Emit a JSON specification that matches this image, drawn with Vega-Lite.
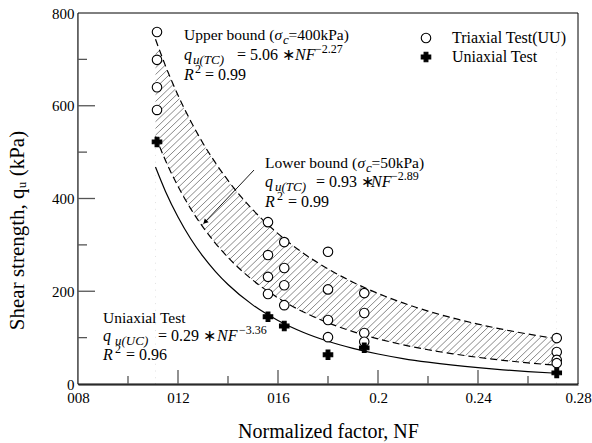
{
  "$schema": "https://vega.github.io/schema/vega-lite/v6.json",
  "width": 500,
  "height": 371,
  "autosize": {"type": "none"},
  "padding": {"left": 78, "top": 13, "right": 14, "bottom": 59},
  "background": "white",
  "config": {
    "view": {"stroke": null},
    "font": "Liberation Serif",
    "axis": {"labelFont": "Liberation Serif", "titleFont": "Liberation Serif", "labelColor": "black", "titleColor": "black", "titleFontWeight": "normal", "ticks": false, "grid": false, "zindex": 1, "labelFlush": false, "labelOverlap": false},
    "legend": {"title": null, "orient": "none", "legendX": 340, "legendY": 17, "labelFontSize": 16, "labelFont": "Liberation Serif", "labelColor": "black", "labelOffset": 18, "rowPadding": 3, "symbolStrokeWidth": 1.1, "symbolSize": 90, "padding": 0}
  },
  "datasets": {
    "hatch": [
      {"a": -0.026, "b": 0.1224}, {"a": -0.0232, "b": 0.1252}, {"a": -0.0204, "b": 0.128}, {"a": -0.0176, "b": 0.1308}, {"a": -0.0148, "b": 0.1336},
      {"a": -0.012, "b": 0.1364}, {"a": -0.0092, "b": 0.1392}, {"a": -0.0064, "b": 0.142}, {"a": -0.0036, "b": 0.1448}, {"a": -0.0008, "b": 0.1476},
      {"a": 0.002, "b": 0.1504}, {"a": 0.0048, "b": 0.1532}, {"a": 0.0076, "b": 0.156}, {"a": 0.0104, "b": 0.1588}, {"a": 0.0132, "b": 0.1616},
      {"a": 0.016, "b": 0.1644}, {"a": 0.0188, "b": 0.1672}, {"a": 0.0216, "b": 0.17}, {"a": 0.0244, "b": 0.1728}, {"a": 0.0272, "b": 0.1756},
      {"a": 0.03, "b": 0.1784}, {"a": 0.0328, "b": 0.1812}, {"a": 0.0356, "b": 0.184}, {"a": 0.0384, "b": 0.1868}, {"a": 0.0412, "b": 0.1896},
      {"a": 0.044, "b": 0.1924}, {"a": 0.0468, "b": 0.1952}, {"a": 0.0496, "b": 0.198}, {"a": 0.0524, "b": 0.2008}, {"a": 0.0552, "b": 0.2036},
      {"a": 0.058, "b": 0.2064}, {"a": 0.0608, "b": 0.2092}, {"a": 0.0636, "b": 0.212}, {"a": 0.0664, "b": 0.2148}, {"a": 0.0692, "b": 0.2176},
      {"a": 0.072, "b": 0.2204}, {"a": 0.0748, "b": 0.2232}, {"a": 0.0776, "b": 0.226}, {"a": 0.0804, "b": 0.2288}, {"a": 0.0832, "b": 0.2316},
      {"a": 0.086, "b": 0.2344}, {"a": 0.0888, "b": 0.2372}, {"a": 0.0916, "b": 0.24}, {"a": 0.0944, "b": 0.2428}, {"a": 0.0972, "b": 0.2456},
      {"a": 0.1, "b": 0.2484}, {"a": 0.1028, "b": 0.2512}, {"a": 0.1056, "b": 0.254}, {"a": 0.1084, "b": 0.2568}, {"a": 0.1112, "b": 0.2596},
      {"a": 0.114, "b": 0.2624}, {"a": 0.1168, "b": 0.2652}, {"a": 0.1196, "b": 0.268}, {"a": 0.1224, "b": 0.2708}, {"a": 0.1252, "b": 0.2736},
      {"a": 0.128, "b": 0.2764}, {"a": 0.1308, "b": 0.2792}, {"a": 0.1336, "b": 0.282}, {"a": 0.1364, "b": 0.2848}, {"a": 0.1392, "b": 0.2876},
      {"a": 0.142, "b": 0.2904}, {"a": 0.1448, "b": 0.2932}, {"a": 0.1476, "b": 0.296}, {"a": 0.1504, "b": 0.2988}, {"a": 0.1532, "b": 0.3016},
      {"a": 0.156, "b": 0.3044}, {"a": 0.1588, "b": 0.3072}, {"a": 0.1616, "b": 0.31}, {"a": 0.1644, "b": 0.3128}, {"a": 0.1672, "b": 0.3156},
      {"a": 0.17, "b": 0.3184}, {"a": 0.1728, "b": 0.3212}, {"a": 0.1756, "b": 0.324}, {"a": 0.1784, "b": 0.3268}, {"a": 0.1812, "b": 0.3296},
      {"a": 0.184, "b": 0.3324}, {"a": 0.1868, "b": 0.3352}, {"a": 0.1896, "b": 0.338}, {"a": 0.1924, "b": 0.3408}, {"a": 0.1952, "b": 0.3436},
      {"a": 0.198, "b": 0.3464}, {"a": 0.2008, "b": 0.3492}, {"a": 0.2036, "b": 0.352}, {"a": 0.2064, "b": 0.3548}, {"a": 0.2092, "b": 0.3576},
      {"a": 0.212, "b": 0.3604}, {"a": 0.2148, "b": 0.3632}, {"a": 0.2176, "b": 0.366}, {"a": 0.2204, "b": 0.3688}, {"a": 0.2232, "b": 0.3716},
      {"a": 0.226, "b": 0.3744}, {"a": 0.2288, "b": 0.3772}, {"a": 0.2316, "b": 0.38}, {"a": 0.2344, "b": 0.3828}, {"a": 0.2372, "b": 0.3856},
      {"a": 0.24, "b": 0.3884}, {"a": 0.2428, "b": 0.3912}, {"a": 0.2456, "b": 0.394}, {"a": 0.2484, "b": 0.3968}, {"a": 0.2512, "b": 0.3996},
      {"a": 0.254, "b": 0.4024}, {"a": 0.2568, "b": 0.4052}, {"a": 0.2596, "b": 0.408}, {"a": 0.2624, "b": 0.4108}, {"a": 0.2652, "b": 0.4136},
      {"a": 0.268, "b": 0.4164}, {"a": 0.2708, "b": 0.4192}
    ],
    "curves": [
      {"x": 0.111, "up": 743.5, "lo": 533.9, "uc": 467.9},
      {"x": 0.115, "up": 686.0, "lo": 482.0, "uc": 415.3},
      {"x": 0.12, "up": 622.8, "lo": 426.3, "uc": 360.1},
      {"x": 0.125, "up": 567.7, "lo": 378.8, "uc": 313.8},
      {"x": 0.13, "up": 519.2, "lo": 338.2, "uc": 275.1},
      {"x": 0.135, "up": 476.8, "lo": 303.3, "uc": 242.4},
      {"x": 0.14, "up": 439.0, "lo": 273.0, "uc": 214.5},
      {"x": 0.15, "up": 375.3, "lo": 223.6, "uc": 170.1},
      {"x": 0.16, "up": 324.2, "lo": 185.6, "uc": 137.0},
      {"x": 0.17, "up": 282.5, "lo": 155.8, "uc": 111.7},
      {"x": 0.18, "up": 248.1, "lo": 132.1, "uc": 92.2},
      {"x": 0.19, "up": 219.5, "lo": 112.9, "uc": 76.9},
      {"x": 0.2, "up": 195.3, "lo": 97.4, "uc": 64.7},
      {"x": 0.21, "up": 174.8, "lo": 84.6, "uc": 54.9},
      {"x": 0.22, "up": 157.3, "lo": 73.9, "uc": 47.0},
      {"x": 0.23, "up": 142.3, "lo": 65.0, "uc": 40.5},
      {"x": 0.24, "up": 129.1, "lo": 57.5, "uc": 35.1},
      {"x": 0.25, "up": 117.7, "lo": 51.1, "uc": 30.6},
      {"x": 0.26, "up": 107.7, "lo": 45.6, "uc": 26.8},
      {"x": 0.2715, "up": 97.6, "lo": 40.3, "uc": 23.2}
    ],
    "pts": [
      {"nf": 0.1116, "q": 759, "type": "Triaxial Test(UU)"},
      {"nf": 0.1116, "q": 699, "type": "Triaxial Test(UU)"},
      {"nf": 0.1116, "q": 640, "type": "Triaxial Test(UU)"},
      {"nf": 0.1116, "q": 591, "type": "Triaxial Test(UU)"},
      {"nf": 0.156, "q": 349, "type": "Triaxial Test(UU)"},
      {"nf": 0.156, "q": 278, "type": "Triaxial Test(UU)"},
      {"nf": 0.156, "q": 231, "type": "Triaxial Test(UU)"},
      {"nf": 0.156, "q": 194, "type": "Triaxial Test(UU)"},
      {"nf": 0.1625, "q": 306, "type": "Triaxial Test(UU)"},
      {"nf": 0.1625, "q": 250, "type": "Triaxial Test(UU)"},
      {"nf": 0.1625, "q": 213, "type": "Triaxial Test(UU)"},
      {"nf": 0.1625, "q": 170, "type": "Triaxial Test(UU)"},
      {"nf": 0.18, "q": 285, "type": "Triaxial Test(UU)"},
      {"nf": 0.18, "q": 204, "type": "Triaxial Test(UU)"},
      {"nf": 0.18, "q": 138, "type": "Triaxial Test(UU)"},
      {"nf": 0.18, "q": 101, "type": "Triaxial Test(UU)"},
      {"nf": 0.1945, "q": 196, "type": "Triaxial Test(UU)"},
      {"nf": 0.1945, "q": 153, "type": "Triaxial Test(UU)"},
      {"nf": 0.1945, "q": 110, "type": "Triaxial Test(UU)"},
      {"nf": 0.1945, "q": 91, "type": "Triaxial Test(UU)"},
      {"nf": 0.2715, "q": 99, "type": "Triaxial Test(UU)"},
      {"nf": 0.2715, "q": 69, "type": "Triaxial Test(UU)"},
      {"nf": 0.2715, "q": 52, "type": "Triaxial Test(UU)"},
      {"nf": 0.2715, "q": 45, "type": "Triaxial Test(UU)"},
      {"nf": 0.1116, "q": 522, "type": "Uniaxial Test"},
      {"nf": 0.156, "q": 145, "type": "Uniaxial Test"},
      {"nf": 0.1625, "q": 125, "type": "Uniaxial Test"},
      {"nf": 0.18, "q": 63, "type": "Uniaxial Test"},
      {"nf": 0.1945, "q": 78, "type": "Uniaxial Test"},
      {"nf": 0.2715, "q": 24, "type": "Uniaxial Test"}
    ],
    "ymaj": [{"v": 200}, {"v": 400}, {"v": 600}],
    "ymin": [{"v": 100}, {"v": 300}, {"v": 500}, {"v": 700}],
    "xmaj": [{"v": 0.12}, {"v": 0.16}, {"v": 0.2}, {"v": 0.24}],
    "xmin": [{"v": 0.1}, {"v": 0.14}, {"v": 0.18}, {"v": 0.22}, {"v": 0.26}],
    "arrow": [{"x1": 0.1504, "y1": 461.4, "x2": 0.1308, "y2": 349.3}],
    "ann": [
      {"x": 0.1224, "y": 741.8, "t": "Upper bound (", "k": "h"},
      {"x": 0.1586, "y": 741.8, "t": "σ", "k": "hi"},
      {"x": 0.162, "y": 741.8, "t": "c", "k": "sb"},
      {"x": 0.1642, "y": 741.8, "t": "=400kPa)", "k": "h"},
      {"x": 0.1224, "y": 698.7, "t": "q", "k": "i"},
      {"x": 0.126, "y": 698.7, "t": "u(TC)", "k": "sb"},
      {"x": 0.1436, "y": 698.7, "t": "= 5.06 ∗", "k": "r"},
      {"x": 0.1668, "y": 698.7, "t": "NF", "k": "i"},
      {"x": 0.1748, "y": 698.7, "t": "−2.27", "k": "sp"},
      {"x": 0.1224, "y": 655.5, "t": "R", "k": "i"},
      {"x": 0.1268, "y": 655.5, "t": "2", "k": "sp"},
      {"x": 0.1308, "y": 655.5, "t": "= 0.99", "k": "r"},
      {"x": 0.1548, "y": 465.8, "t": "Lower bound (", "k": "h"},
      {"x": 0.1918, "y": 465.8, "t": "σ", "k": "hi"},
      {"x": 0.1952, "y": 465.8, "t": "c", "k": "sb"},
      {"x": 0.1974, "y": 465.8, "t": "=50kPa)", "k": "h"},
      {"x": 0.1548, "y": 424.8, "t": "q", "k": "i"},
      {"x": 0.1588, "y": 424.8, "t": "u(TC)", "k": "sb"},
      {"x": 0.1752, "y": 424.8, "t": "= 0.93 ∗", "k": "r"},
      {"x": 0.1972, "y": 424.8, "t": "NF", "k": "i"},
      {"x": 0.2052, "y": 424.8, "t": "−2.89", "k": "sp"},
      {"x": 0.1548, "y": 381.7, "t": "R", "k": "i"},
      {"x": 0.1596, "y": 381.7, "t": "2", "k": "sp"},
      {"x": 0.164, "y": 381.7, "t": "= 0.99", "k": "r"},
      {"x": 0.09, "y": 131.5, "t": "Uniaxial Test", "k": "h"},
      {"x": 0.09, "y": 92.7, "t": "q", "k": "i"},
      {"x": 0.0948, "y": 92.7, "t": "u(UC)", "k": "sb"},
      {"x": 0.112, "y": 92.7, "t": "= 0.29 ∗", "k": "r"},
      {"x": 0.1356, "y": 92.7, "t": "NF", "k": "i"},
      {"x": 0.1444, "y": 92.7, "t": "−3.36", "k": "sp"},
      {"x": 0.09, "y": 51.8, "t": "R", "k": "i"},
      {"x": 0.0948, "y": 51.8, "t": "2", "k": "sp"},
      {"x": 0.0992, "y": 51.8, "t": "= 0.96", "k": "r"}
    ]
  },
  "layer": [
    {
      "data": {"name": "hatch"},
      "mark": {"type": "rule", "clip": true, "color": "#555555", "strokeWidth": 0.7},
      "encoding": {
        "x": {"field": "a", "type": "quantitative", "scale": {"domain": [0.08, 0.28], "nice": false, "zero": false},
          "axis": {"values": [0.08, 0.12, 0.16, 0.2, 0.24, 0.28], "labelExpr": "datum.value < 0.1 ? '008' : datum.value < 0.14 ? '012' : datum.value < 0.18 ? '016' : datum.value < 0.22 ? '0.2' : datum.value < 0.26 ? '0.24' : '0.28'", "labelFontSize": 15, "labelPadding": 6, "title": "Normalized factor, NF", "titleFontSize": 20, "titlePadding": 16, "domainColor": "#555555", "domainWidth": 2.5}},
        "x2": {"field": "b"},
        "y": {"datum": 0, "type": "quantitative", "scale": {"domain": [0, 800], "nice": false},
          "axis": {"values": [0, 200, 400, 600, 800], "labelFontSize": 15, "labelPadding": 4, "title": "Shear strength, qᵤ (kPa)", "titleFontSize": 21, "titleAngle": -90, "titleX": -61, "titleY": 217, "titleAlign": "center", "titleBaseline": "middle", "domainColor": "black", "domainWidth": 1.5}},
        "y2": {"datum": 770}
      }
    },
    {
      "data": {"name": "curves"},
      "mark": {"type": "area", "color": "white", "interpolate": "monotone"},
      "encoding": {"x": {"field": "x", "type": "quantitative"}, "y": {"field": "up", "type": "quantitative"}, "y2": {"datum": 800}}
    },
    {
      "data": {"name": "curves"},
      "mark": {"type": "area", "color": "white", "interpolate": "monotone"},
      "encoding": {"x": {"field": "x", "type": "quantitative"}, "y": {"field": "lo", "type": "quantitative"}, "y2": {"datum": 0}}
    },
    {
      "data": {"values": [{}]},
      "mark": {"type": "rect", "color": "white"},
      "encoding": {"x": {"datum": 0.08}, "x2": {"datum": 0.111}, "y": {"datum": 0}, "y2": {"datum": 800}}
    },
    {
      "data": {"values": [{}]},
      "mark": {"type": "rect", "color": "white"},
      "encoding": {"x": {"datum": 0.2715}, "x2": {"datum": 0.28}, "y": {"datum": 0}, "y2": {"datum": 800}}
    },
    {
      "data": {"name": "curves"},
      "mark": {"type": "line", "color": "black", "strokeWidth": 1.2, "strokeDash": [7, 4], "interpolate": "monotone"},
      "encoding": {"x": {"field": "x", "type": "quantitative"}, "y": {"field": "up", "type": "quantitative"}}
    },
    {
      "data": {"name": "curves"},
      "mark": {"type": "line", "color": "black", "strokeWidth": 1.2, "strokeDash": [7, 4], "interpolate": "monotone"},
      "encoding": {"x": {"field": "x", "type": "quantitative"}, "y": {"field": "lo", "type": "quantitative"}}
    },
    {
      "data": {"name": "curves"},
      "mark": {"type": "line", "color": "black", "strokeWidth": 1.2, "interpolate": "monotone"},
      "encoding": {"x": {"field": "x", "type": "quantitative"}, "y": {"field": "uc", "type": "quantitative"}}
    },
    {
      "data": {"values": [{}]},
      "mark": {"type": "rect", "fill": null, "fillOpacity": 0, "stroke": "black", "strokeWidth": 1},
      "encoding": {"x": {"datum": 0.08}, "x2": {"datum": 0.28}, "y": {"datum": 0}, "y2": {"datum": 800}}
    },
    {
      "data": {"name": "ymaj"},
      "mark": {"type": "rule", "color": "#555555", "strokeWidth": 1.3},
      "encoding": {"x": {"datum": 0.08}, "x2": {"datum": 0.0868}, "y": {"field": "v", "type": "quantitative"}}
    },
    {
      "data": {"name": "ymin"},
      "mark": {"type": "rule", "color": "#555555", "strokeWidth": 1.3},
      "encoding": {"x": {"datum": 0.08}, "x2": {"datum": 0.0836}, "y": {"field": "v", "type": "quantitative"}}
    },
    {
      "data": {"name": "xmaj"},
      "mark": {"type": "rule", "color": "#555555", "strokeWidth": 1.3},
      "encoding": {"x": {"field": "v", "type": "quantitative"}, "y": {"datum": 0}, "y2": {"datum": 30}}
    },
    {
      "data": {"name": "xmin"},
      "mark": {"type": "rule", "color": "#555555", "strokeWidth": 1.3},
      "encoding": {"x": {"field": "v", "type": "quantitative"}, "y": {"datum": 0}, "y2": {"datum": 17}}
    },
    {
      "data": {"name": "pts"},
      "mark": {"type": "point", "filled": true, "strokeWidth": 1.1, "size": 90, "opacity": 1},
      "encoding": {
        "x": {"field": "nf", "type": "quantitative"},
        "y": {"field": "q", "type": "quantitative"},
        "shape": {"field": "type", "type": "nominal", "scale": {"domain": ["Triaxial Test(UU)", "Uniaxial Test"], "range": ["circle", "cross"]}, "legend": {"title": null}},
        "fill": {"field": "type", "type": "nominal", "scale": {"domain": ["Triaxial Test(UU)", "Uniaxial Test"], "range": ["white", "black"]}, "legend": {"title": null}},
        "stroke": {"field": "type", "type": "nominal", "scale": {"domain": ["Triaxial Test(UU)", "Uniaxial Test"], "range": ["black", "black"]}, "legend": {"title": null}}
      }
    },
    {
      "data": {"name": "arrow"},
      "mark": {"type": "rule", "color": "black", "strokeWidth": 0.9},
      "encoding": {"x": {"field": "x1", "type": "quantitative"}, "y": {"field": "y1", "type": "quantitative"}, "x2": {"field": "x2"}, "y2": {"field": "y2"}}
    },
    {
      "data": {"name": "arrow"},
      "mark": {"type": "point", "shape": "triangle-up", "angle": 225, "filled": true, "color": "black", "size": 30, "opacity": 1},
      "encoding": {"x": {"field": "x2", "type": "quantitative"}, "y": {"field": "y2", "type": "quantitative"}}
    },
    {
      "data": {"name": "ann"},
      "transform": [{"filter": "datum.k == 'h'"}],
      "mark": {"type": "text", "font": "Liberation Serif", "fontSize": 15.5, "align": "left", "baseline": "alphabetic", "color": "black"},
      "encoding": {"x": {"field": "x", "type": "quantitative"}, "y": {"field": "y", "type": "quantitative"}, "text": {"field": "t"}}
    },
    {
      "data": {"name": "ann"},
      "transform": [{"filter": "datum.k == 'hi'"}],
      "mark": {"type": "text", "font": "Liberation Serif", "fontSize": 15.5, "fontStyle": "italic", "align": "left", "baseline": "alphabetic", "color": "black"},
      "encoding": {"x": {"field": "x", "type": "quantitative"}, "y": {"field": "y", "type": "quantitative"}, "text": {"field": "t"}}
    },
    {
      "data": {"name": "ann"},
      "transform": [{"filter": "datum.k == 'r'"}],
      "mark": {"type": "text", "font": "Liberation Serif", "fontSize": 16, "align": "left", "baseline": "alphabetic", "color": "black"},
      "encoding": {"x": {"field": "x", "type": "quantitative"}, "y": {"field": "y", "type": "quantitative"}, "text": {"field": "t"}}
    },
    {
      "data": {"name": "ann"},
      "transform": [{"filter": "datum.k == 'i'"}],
      "mark": {"type": "text", "font": "Liberation Serif", "fontSize": 16, "fontStyle": "italic", "align": "left", "baseline": "alphabetic", "color": "black"},
      "encoding": {"x": {"field": "x", "type": "quantitative"}, "y": {"field": "y", "type": "quantitative"}, "text": {"field": "t"}}
    },
    {
      "data": {"name": "ann"},
      "transform": [{"filter": "datum.k == 'sb'"}],
      "mark": {"type": "text", "font": "Liberation Serif", "fontSize": 13, "fontStyle": "italic", "align": "left", "baseline": "alphabetic", "dy": 4, "color": "black"},
      "encoding": {"x": {"field": "x", "type": "quantitative"}, "y": {"field": "y", "type": "quantitative"}, "text": {"field": "t"}}
    },
    {
      "data": {"name": "ann"},
      "transform": [{"filter": "datum.k == 'sp'"}],
      "mark": {"type": "text", "font": "Liberation Serif", "fontSize": 12, "align": "left", "baseline": "alphabetic", "dy": -7, "color": "black"},
      "encoding": {"x": {"field": "x", "type": "quantitative"}, "y": {"field": "y", "type": "quantitative"}, "text": {"field": "t"}}
    }
  ]
}
